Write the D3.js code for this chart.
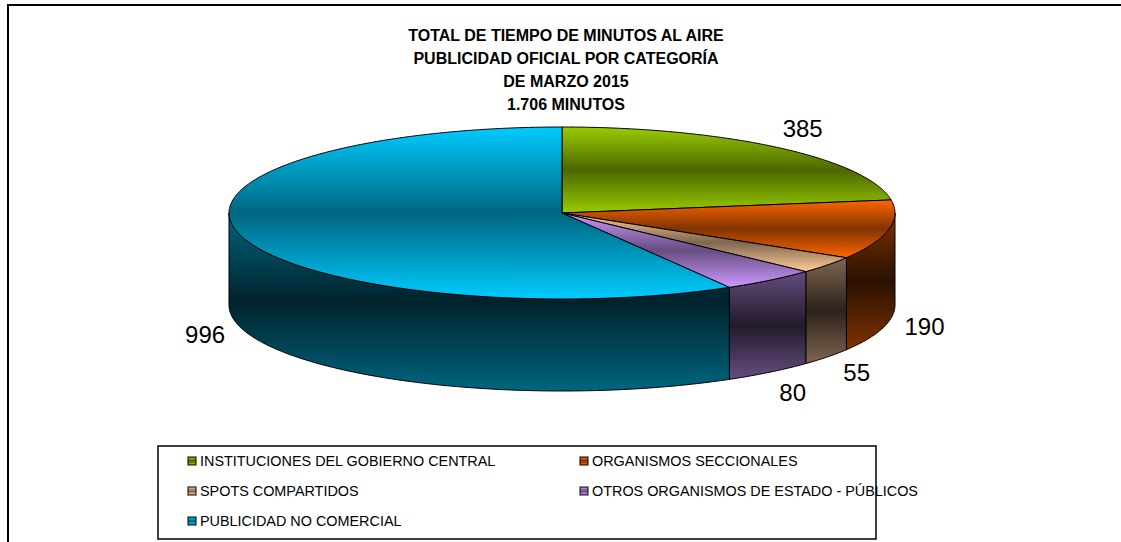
<!DOCTYPE html>
<html>
<head>
<meta charset="utf-8">
<script src="https://cdnjs.cloudflare.com/ajax/libs/d3/7.8.5/d3.min.js"></script>
<style>
  body { margin: 0; background: #fff; }
  text { font-family: Arial, "Liberation Sans", sans-serif; }
</style>
</head>
<body>
<script>
// chart data
var titleLines = ["TOTAL DE TIEMPO DE MINUTOS AL AIRE", "PUBLICIDAD OFICIAL POR CATEGORÍA", "DE MARZO 2015", "1.706 MINUTOS"];
var categories = ["INSTITUCIONES DEL GOBIERNO CENTRAL", "ORGANISMOS SECCIONALES", "SPOTS COMPARTIDOS", "OTROS ORGANISMOS DE ESTADO - PÚBLICOS", "PUBLICIDAD NO COMERCIAL"];
var values = [385, 190, 55, 80, 996];

// colours: light top, dark top, dark side middle
var lightColors = ["#99CC00", "#FF6600", "#FFCC99", "#CC99FF", "#00CCFF"];
var darkColors  = ["#4C6600", "#803300", "#806650", "#664D80", "#006680"];
var sideMid     = ["#1a2200", "#2a1100", "#2b221b", "#221a2b", "#00222b"];

var width = 1121, height = 542;

var svg = d3.select("body").append("svg")
    .attr("width", width)
    .attr("height", height);

var defs = svg.append("defs");

//outer frame
svg.append("rect")
    .attr("x", 8).attr("y", 5)
    .attr("width", 1200).attr("height", 600)
    .attr("fill", "none")
    .attr("stroke", "#000")
    .attr("stroke-width", 2);

//title
svg.append("g").selectAll("text")
  .data(titleLines)
  .enter().append("text")
    .attr("x", 566)
    .attr("y", function(d, i) { return 41 + i * 23; })
    .attr("text-anchor", "middle")
    .attr("font-size", 16)
    .attr("font-weight", "bold")
    .text(function(d) { return d; });

//gradients for top faces and sides
values.forEach(function(v, i) {
  var gt = defs.append("linearGradient").attr("id", "top" + i)
      .attr("x1", 0).attr("y1", 0).attr("x2", 0).attr("y2", 1);
  gt.append("stop").attr("offset", 0).attr("stop-color", lightColors[i]);
  gt.append("stop").attr("offset", 0.5).attr("stop-color", darkColors[i]);
  gt.append("stop").attr("offset", 1).attr("stop-color", lightColors[i]);
  var gs = defs.append("linearGradient").attr("id", "side" + i)
      .attr("x1", 0).attr("y1", 0).attr("x2", 0).attr("y2", 1);
  gs.append("stop").attr("offset", 0).attr("stop-color", darkColors[i]);
  gs.append("stop").attr("offset", 0.5).attr("stop-color", sideMid[i]);
  gs.append("stop").attr("offset", 1).attr("stop-color", darkColors[i]);
});

//pie geometry
var cx = 562, cy = 213, rx = 333, ry = 86, depth = 92;

var pie = d3.pie().sort(null).value(function(d) { return d; });
var arcs = pie(values);

function pt(a, dy) {
  return [cx + rx * Math.sin(a), cy - ry * Math.cos(a) + (dy || 0)];
}
function arcPts(a0, a1, dy) {
  var n = Math.max(2, Math.ceil(Math.abs(a1 - a0) / 0.01));
  var pts = [];
  for (var k = 0; k <= n; k++) pts.push(pt(a0 + (a1 - a0) * k / n, dy));
  return pts;
}
var line = d3.line();

var pieG = svg.append("g");

//outer walls on the front half (angles between 90 and 270 degrees)
arcs.forEach(function(d, i) {
  var s = Math.max(d.startAngle, Math.PI / 2),
      e = Math.min(d.endAngle, 3 * Math.PI / 2);
  if (e <= s) return;
  var pts = arcPts(s, e, 0).concat(arcPts(e, s, depth));
  pieG.append("path")
      .attr("d", line(pts) + "Z")
      .attr("fill", "url(#side" + i + ")")
      .attr("stroke", "#000")
      .attr("stroke-width", 1)
      .attr("stroke-linejoin", "round");
});

//top faces
arcs.forEach(function(d, i) {
  var pts = [[cx, cy]].concat(arcPts(d.startAngle, d.endAngle, 0));
  pieG.append("path")
      .attr("d", line(pts) + "Z")
      .attr("fill", "url(#top" + i + ")")
      .attr("stroke", "#000")
      .attr("stroke-width", 1)
      .attr("stroke-linejoin", "round");
});

//value labels outside the slices
arcs.forEach(function(d, i) {
  var a = (d.startAngle + d.endAngle) / 2;
  var front = Math.cos(a) < 0;
  svg.append("text")
      .attr("x", cx + rx * 1.11 * Math.sin(a))
      .attr("y", cy - ry * 1.3 * Math.cos(a) + (front ? depth : 0))
      .attr("text-anchor", "middle")
      .attr("dominant-baseline", "central")
      .attr("font-size", 24)
      .text(d.value);
});

//legend
var legend = svg.append("g");
legend.append("rect")
    .attr("x", 158).attr("y", 446)
    .attr("width", 718).attr("height", 93)
    .attr("fill", "#fff")
    .attr("stroke", "#000")
    .attr("stroke-width", 1.5);

var item = legend.selectAll("g.item")
  .data(categories)
  .enter().append("g")
    .attr("class", "item")
    .attr("transform", function(d, i) {
      return "translate(" + (i % 2 === 0 ? 188 : 580) + "," + (461 + Math.floor(i / 2) * 30) + ")";
    });

item.append("rect")
    .attr("x", 0).attr("y", -4)
    .attr("width", 8).attr("height", 8)
    .attr("fill", function(d, i) { return "url(#top" + i + ")"; })
    .attr("stroke", "#000")
    .attr("stroke-width", 1);

item.append("text")
    .attr("x", 12)
    .attr("y", 0)
    .attr("dominant-baseline", "central")
    .attr("font-size", 14.4)
    .text(function(d) { return d; });
</script>
</body>
</html>
